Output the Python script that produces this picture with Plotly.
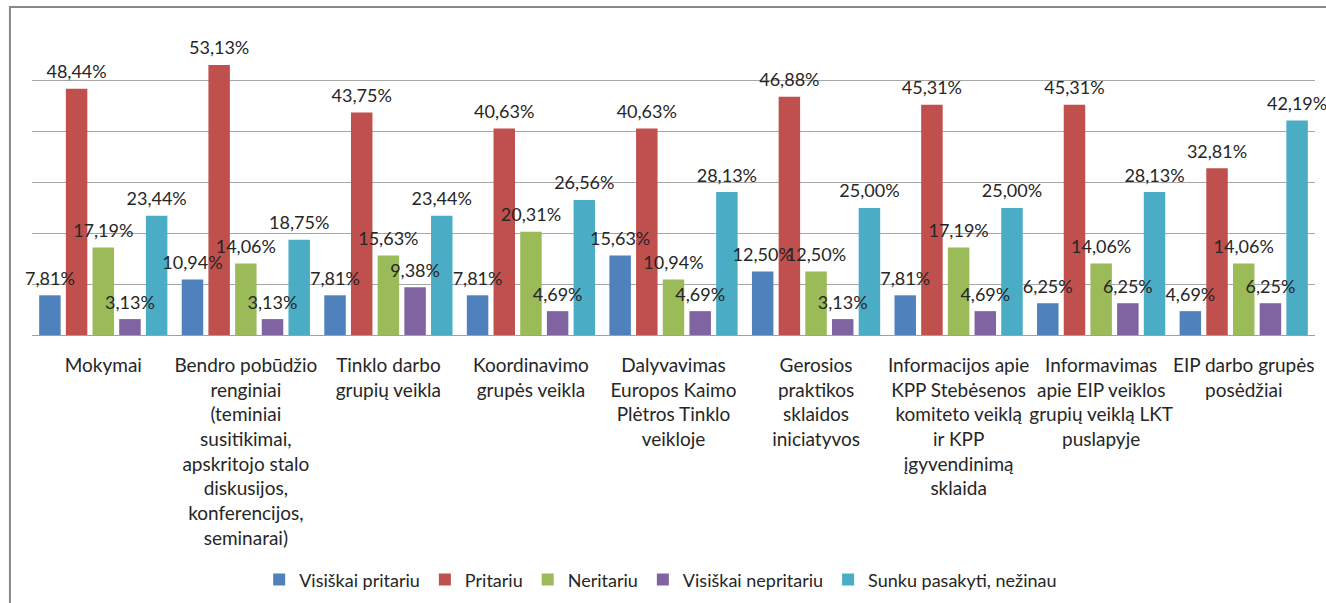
import plotly.graph_objects as go

categories = [
    "Mokymai",
    "Bendro pobūdžio renginiai (teminiai susitikimai, apskritojo stalo diskusijos, konferencijos, seminarai)",
    "Tinklo darbo grupių veikla",
    "Koordinavimo grupės veikla",
    "Dalyvavimas Europos Kaimo Plėtros Tinklo veikloje",
    "Gerosios praktikos sklaidos iniciatyvos",
    "Informacijos apie KPP Stebėsenos komiteto veiklą ir KPP įgyvendinimą sklaida",
    "Informavimas apie EIP veiklos grupių veiklą LKT puslapyje",
    "EIP darbo grupės posėdžiai",
]
tick_labels = [
    "Mokymai",
    "Bendro pobūdžio<br>renginiai<br>(teminiai<br>susitikimai,<br>apskritojo stalo<br>diskusijos,<br>konferencijos,<br>seminarai)",
    "Tinklo darbo<br>grupių veikla",
    "Koordinavimo<br>grupės veikla",
    "Dalyvavimas<br>Europos Kaimo<br>Plėtros Tinklo<br>veikloje",
    "Gerosios<br>praktikos<br>sklaidos<br>iniciatyvos",
    "Informacijos apie<br>KPP Stebėsenos<br>komiteto veiklą<br>ir KPP<br>įgyvendinimą<br>sklaida",
    "Informavimas<br>apie EIP veiklos<br>grupių veiklą LKT<br>puslapyje",
    "EIP darbo grupės<br>posėdžiai",
]

visiskai_pritariu = [7.81, 10.94, 7.81, 7.81, 15.63, 12.50, 7.81, 6.25, 4.69]
pritariu = [48.44, 53.13, 43.75, 40.63, 40.63, 46.88, 45.31, 45.31, 32.81]
neritariu = [17.19, 14.06, 15.63, 20.31, 10.94, 12.50, 17.19, 14.06, 14.06]
visiskai_nepritariu = [3.13, 3.13, 9.38, 4.69, 4.69, 3.13, 4.69, 6.25, 6.25]
sunku_pasakyti = [23.44, 18.75, 23.44, 26.56, 28.13, 25.00, 25.00, 28.13, 42.19]

series_names = ["Visiškai pritariu", "Pritariu", "Neritariu", "Visiškai nepritariu", "Sunku pasakyti, nežinau"]
series_values = [visiskai_pritariu, pritariu, neritariu, visiskai_nepritariu, sunku_pasakyti]
colors = ["#4F81BD", "#C0504D", "#9BBB59", "#8064A2", "#4BACC6"]

FONT = "Lato, 'Liberation Sans', Arial, sans-serif"
TXT = "#262626"
BARGAP = 0.064

fig = go.Figure()
for name, vals, col in zip(series_names, series_values, colors):
    fig.add_trace(go.Bar(
        x=categories, y=vals, name=name,
        marker=dict(color=col, line=dict(width=0)),
        hoverinfo="x+y+name",
    ))
# data labels on top of all bars
for name, vals in zip(series_names, series_values):
    fig.add_trace(go.Scatter(
        x=categories, y=vals, name=name, mode="markers+text",
        marker=dict(size=8, color="rgba(0,0,0,0)"),
        texttemplate="%{y:.2f}%", textposition="top center",
        textfont=dict(family=FONT, size=18, color=TXT),
        showlegend=False, hoverinfo="skip", cliponaxis=False,
    ))

fig.update_layout(
    width=1326, height=603, autosize=False,
    margin=dict(l=32, r=11, t=30, b=268, autoexpand=False),
    paper_bgcolor="white", plot_bgcolor="white",
    barmode="group", bargap=BARGAP, bargroupgap=0.195,
    scattermode="group", scattergap=BARGAP,
    separators=",.",
    font=dict(family=FONT, size=18, color=TXT),
    showlegend=True,
    legend=dict(orientation="h", x=0.49, xanchor="center", y=-0.803, yanchor="middle",
                font=dict(family=FONT, size=18, color=TXT), bgcolor="rgba(0,0,0,0)",
                traceorder="normal"),
    xaxis=dict(tickmode="array", tickvals=categories, ticktext=tick_labels,
               tickangle=0,
               showline=True, linecolor="#a0a0a0", linewidth=1, ticks="",
               ticklabelstandoff=13, tickfont=dict(family=FONT, size=19, color=TXT),
               showgrid=False, automargin=False),
    yaxis=dict(range=[0, 60], dtick=10, showticklabels=False, showgrid=True,
               gridcolor="#a6a6a6", gridwidth=1, zeroline=False, showline=False,
               automargin=False),
    shapes=[dict(type="rect", xref="paper", yref="paper",
                 x0=-0.0172, x1=1.05, y0=-1.5, y1=1.0754,
                 line=dict(color="#888888", width=2), fillcolor="rgba(0,0,0,0)", layer="below")],
)

fig.write_html("out.html", config={"displayModeBar": False},
               post_script="document.body.style.margin='0';document.body.style.overflow='hidden';")
